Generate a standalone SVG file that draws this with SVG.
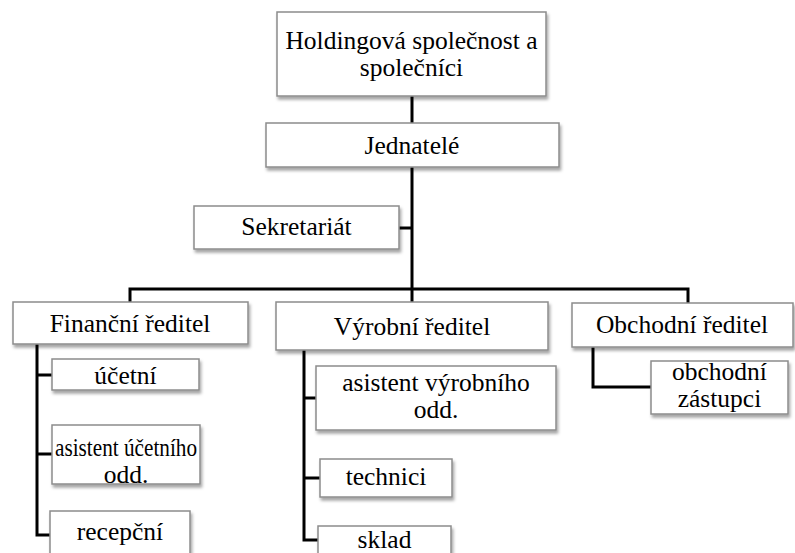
<svg xmlns="http://www.w3.org/2000/svg" width="795" height="553" viewBox="0 0 795 553">
<defs>
<filter id="sh" x="-10%" y="-20%" width="125%" height="150%">
<feDropShadow dx="1.5" dy="3" stdDeviation="1.8" flood-color="#000" flood-opacity="0.35"/>
</filter>
</defs>
<style>
.box{fill:#fff;stroke:#8c8c8c;stroke-width:1.5;filter:url(#sh)}
.t{font-family:'Liberation Serif',Tinos,'Times New Roman',Times,'Noto Serif','DejaVu Serif',FreeSerif,Georgia,serif;font-size:25.5px;fill:#000;text-anchor:middle}
.c{fill:none;stroke:#000;stroke-width:3}
</style>
<rect width="795" height="553" fill="#fff"/>
<g id="connectors">
<path class="c" d="M412,96V123"/>
<path class="c" d="M412,167V302"/>
<path class="c" d="M399,228H412"/>
<path class="c" d="M130,302V289H688V303"/>
<path class="c" d="M37,344V535H50M37,375H52M37,454H52"/>
<path class="c" d="M304,350V540H318M304,398H316M304,478H320"/>
<path class="c" d="M593,347V387H651"/>
</g>
<g id="holding"><rect class="box" x="277" y="12" width="269" height="84"/><text class="t" x="411.5" y="49">Holdingová společnost a</text><text class="t" x="411.5" y="76">společníci</text></g>
<g id="jednatele"><rect class="box" x="266" y="123" width="293" height="44"/><text class="t" x="412" y="154">Jednatelé</text></g>
<g id="sekretariat"><rect class="box" x="194" y="206" width="205" height="43"/><text class="t" x="296.5" y="235">Sekretariát</text></g>
<g id="financni"><rect class="box" x="13" y="302" width="235" height="42"/><text class="t" x="130" y="332">Finanční ředitel</text></g>
<g id="vyrobni"><rect class="box" x="276" y="302" width="272" height="48"/><text class="t" x="412" y="335">Výrobní ředitel</text></g>
<g id="obchodni"><rect class="box" x="572" y="303" width="221" height="44"/><text class="t" x="682" y="333">Obchodní ředitel</text></g>
<g id="ucetni"><rect class="box" x="52" y="359" width="147" height="31"/><text class="t" x="125.5" y="384">účetní</text></g>
<g id="asistent-ucetniho"><rect class="box" x="52" y="425" width="148" height="59"/><text class="t" x="126" y="456" textLength="142" lengthAdjust="spacingAndGlyphs">asistent účetního</text><text class="t" x="126" y="483">odd.</text></g>
<g id="recepcni"><rect class="box" x="50" y="511" width="140" height="50"/><text class="t" x="120" y="540">recepční</text></g>
<g id="asistent-vyrobniho"><rect class="box" x="316" y="366" width="240" height="64"/><text class="t" x="436" y="391">asistent výrobního</text><text class="t" x="436" y="418">odd.</text></g>
<g id="technici"><rect class="box" x="320" y="459" width="132" height="38"/><text class="t" x="386" y="485">technici</text></g>
<g id="sklad"><rect class="box" x="318" y="526" width="133" height="40"/><text class="t" x="384.5" y="548">sklad</text></g>
<g id="obchodni-zastupci"><rect class="box" x="651" y="361" width="137" height="53"/><text class="t" x="719.5" y="380">obchodní</text><text class="t" x="719.5" y="407">zástupci</text></g>
</svg>
